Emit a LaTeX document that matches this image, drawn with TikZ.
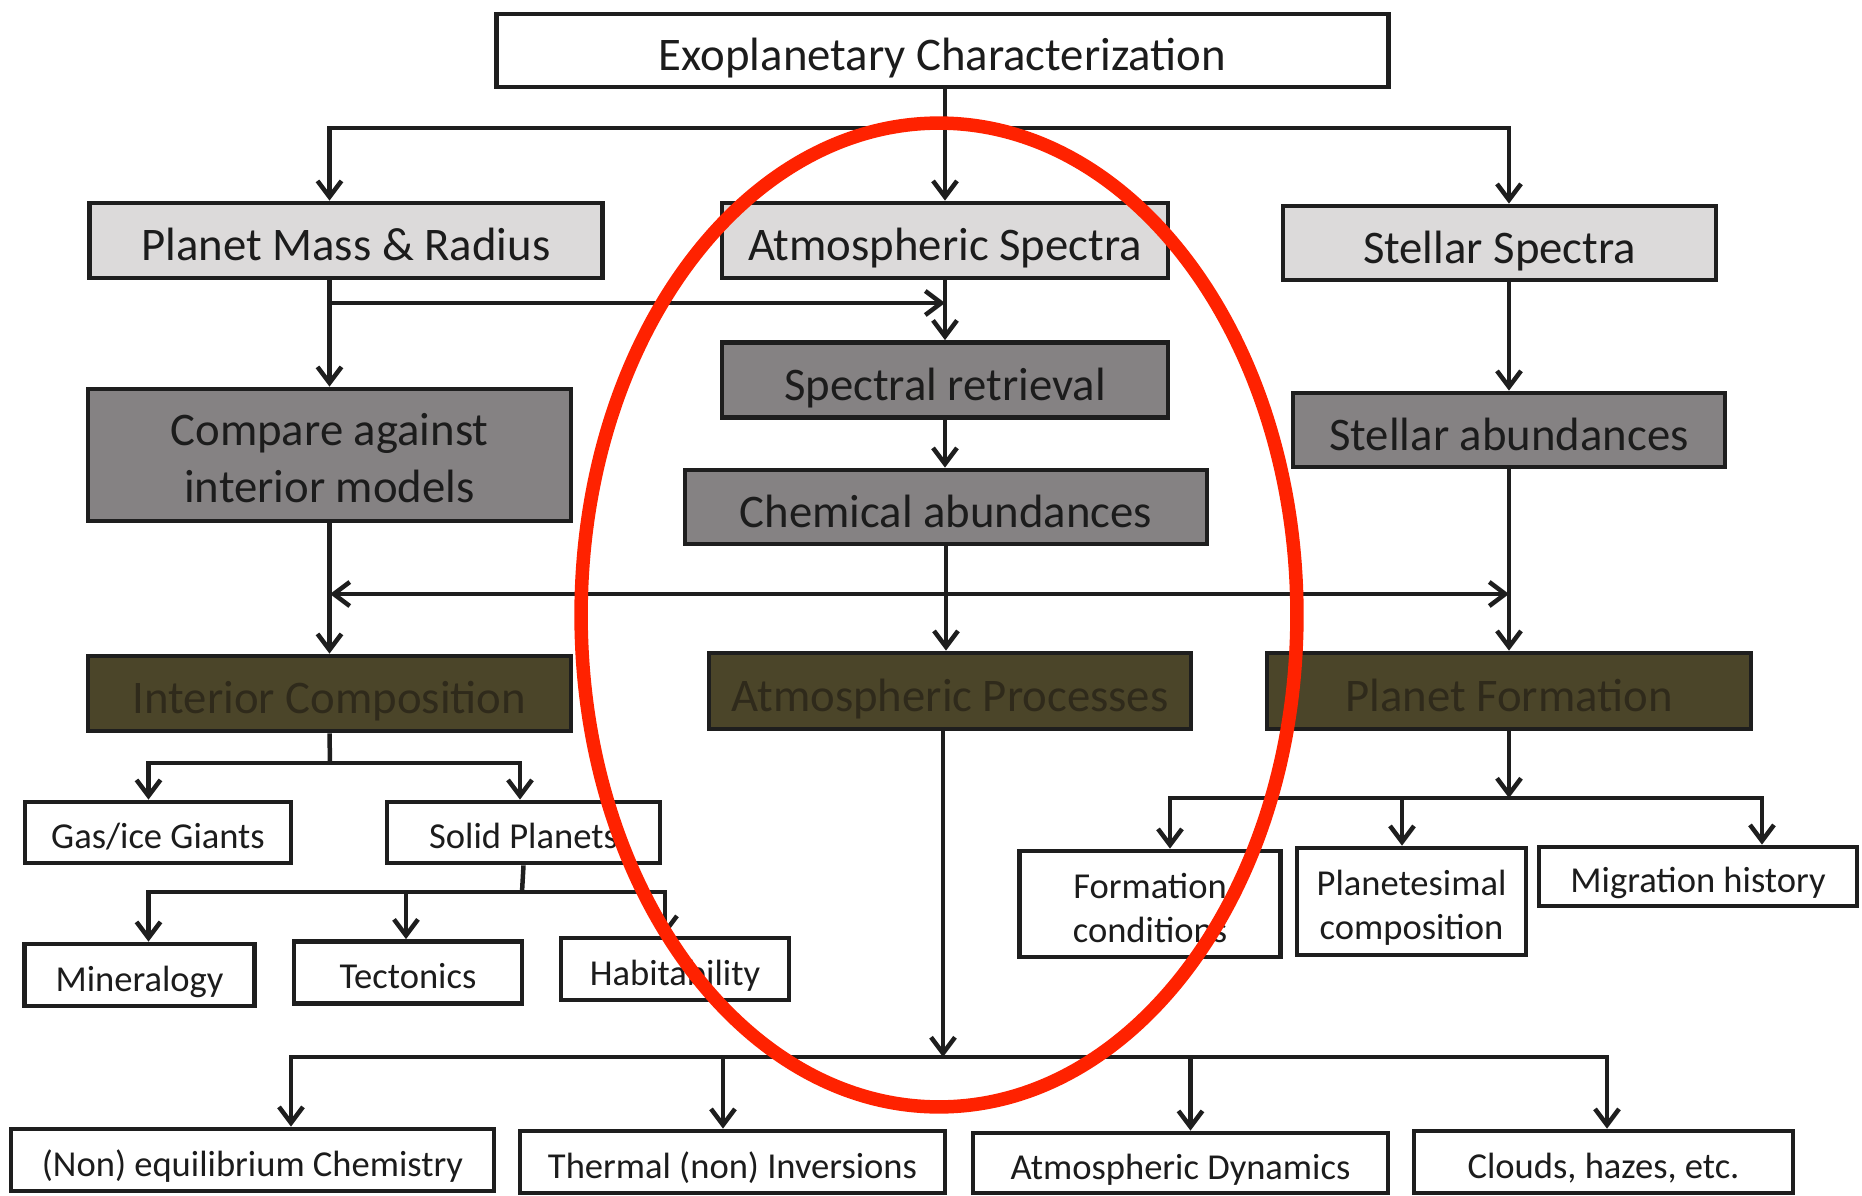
\documentclass[tikz,border=0pt]{standalone}
\usepackage{fontspec}
\setmainfont{Carlito}
\usepackage{tikz}
\usetikzlibrary{arrows.meta,calc}
\definecolor{boxlight}{HTML}{DCDADA}
\definecolor{boxdark}{HTML}{858283}
\definecolor{boxolive}{HTML}{4B4529}
\definecolor{textolive}{HTML}{2F2A1B}
\definecolor{textdark}{HTML}{1C1C1C}
\definecolor{linegray}{HTML}{1E1E1E}
\definecolor{ringred}{HTML}{FF2200}

\begin{document}
\begin{tikzpicture}[x=0.02cm,y=-0.02cm,>={Straight Barb[length=0.32cm,width=0.48cm]},
  box/.style={draw=linegray,line width=0.095cm,inner sep=0pt,text depth=0pt,align=center,text=textdark},
  mainbox/.style={box,text height=23pt,font=\fontsize{26.6}{32.4}\selectfont},
  leafbox/.style={box,text height=18.5pt,fill=white,font=\fontsize{20.8}{25}\selectfont},
  twomain/.style={text height=53.5pt},
  twoleaf/.style={text height=43.5pt},
  topbox/.style={mainbox,fill=white},
  inbox/.style={mainbox,fill=boxlight},
  stepbox/.style={mainbox,fill=boxdark},
  resbox/.style={mainbox,fill=boxolive,text=textolive},
  link/.style={draw=linegray,line width=0.09cm}]
  \useasboundingbox (0,0) rectangle (1862,1196);
  \fill[white] (0,0) rectangle (1862,1196);

  \node[topbox,minimum width=17.84cm,minimum height=1.46cm] (exo) at (942.5,50.5) {Exoplanetary Characterization};

  \node[inbox,minimum width=10.26cm,minimum height=1.5cm] (pmr) at (346,240.5) {Planet Mass \& Radius};
  \node[inbox,minimum width=8.92cm,minimum height=1.5cm] (atmspec) at (945,240.5) {Atmospheric Spectra};
  \node[inbox,minimum width=8.66cm,minimum height=1.48cm] (stelspec) at (1499.5,243) {Stellar Spectra};

  \node[stepbox,twomain,minimum width=9.66cm,minimum height=2.64cm] (compare) at (329.5,455) {Compare against\\interior models};
  \node[stepbox,minimum width=8.92cm,minimum height=1.5cm] (retr) at (945,380) {Spectral retrieval};
  \node[stepbox,minimum width=10.44cm,minimum height=1.48cm] (chemab) at (946,507) {Chemical abundances};
  \node[stepbox,minimum width=8.64cm,minimum height=1.48cm] (stelab) at (1509,430) {Stellar abundances};

  \node[resbox,minimum width=9.66cm,minimum height=1.5cm] (intcomp) at (329.5,693.5) {Interior Composition};
  \node[resbox,minimum width=9.64cm,minimum height=1.52cm] (atmproc) at (950,691) {Atmospheric Processes};
  \node[resbox,minimum width=9.68cm,minimum height=1.52cm] (planform) at (1509,691) {Planet Formation};

  \node[leafbox,minimum width=5.32cm,minimum height=1.22cm] (gasice) at (158,832.5) {Gas/ice Giants};
  \node[leafbox,minimum width=5.46cm,minimum height=1.22cm] (solid) at (523.5,832.5) {Solid Planets};
  \node[leafbox,minimum width=4.6cm,minimum height=1.24cm] (miner) at (139.5,975) {Mineralogy};
  \node[leafbox,minimum width=4.56cm,minimum height=1.24cm] (tecton) at (408,972.5) {Tectonics};
  \node[leafbox,minimum width=4.56cm,minimum height=1.24cm] (habit) at (675,969) {Habitability};

  \node[leafbox,twoleaf,minimum width=5.22cm,minimum height=2.12cm] (formcond) at (1150,904) {Formation\\conditions};
  \node[leafbox,twoleaf,minimum width=4.58cm,minimum height=2.14cm] (planetes) at (1411.5,901.5) {Planetesimal\\composition};
  \node[leafbox,minimum width=6.36cm,minimum height=1.18cm] (migr) at (1698,876.5) {Migration history};

  \node[leafbox,minimum width=9.66cm,minimum height=1.24cm] (noneq) at (252.5,1160) {(Non) equilibrium Chemistry};
  \node[leafbox,minimum width=8.5cm,minimum height=1.24cm] (thermal) at (732.5,1162) {Thermal (non) Inversions};
  \node[leafbox,minimum width=8.3cm,minimum height=1.2cm] (atmdyn) at (1180.5,1163) {Atmospheric Dynamics};
  \node[leafbox,minimum width=7.58cm,minimum height=1.24cm] (clouds) at (1603.5,1162) {Clouds, hazes, etc.};

  \coordinate (topbus) at (945,128);
  \draw[link,->] (atmspec.north |- exo.south) -- (atmspec.north);
  \draw[link,->] (topbus) -| (intcomp.north |- pmr.north);
  \draw[link,->] (topbus) -| (stelab.north |- stelspec.north);

  \coordinate (massfork) at (330,303);
  \coordinate (specjoin) at (945,303);
  \draw[link,->] (intcomp.north |- pmr.south) -- (compare.north);
  \draw[link,->] (massfork) -- (specjoin);
  \draw[link,->] (atmspec.south) -- (retr.north);
  \draw[link,->] (retr.south) -- (retr.south |- chemab.north);
  \draw[link,->] (stelab.north |- stelspec.south) -- (stelab.north);

  \coordinate (crossL) at (330,594);
  \coordinate (crossR) at (1509,594);
  \draw[link,<->] (crossL) -- (crossR);
  \draw[link,->] (compare.south) -- (intcomp.north);
  \draw[link,->] (chemab.south) -- (chemab.south |- atmproc.north);
  \draw[link,->] (stelab.south) -- (planform.north);

  \coordinate (intbus) at (330,763);
  \draw[link] (intcomp.south) -- (intbus);
  \foreach \n/\dx in {gasice/-0.19cm,solid/-0.07cm}
    \draw[link,->] (intbus) -| ([xshift=\dx]\n.north);

  \coordinate (solbus) at (522,892);
  \draw[link] (solid.south) -- (solbus);
  \foreach \n/\dx in {miner/0.18cm,tecton/-0.04cm,habit/-0.2cm}
    \draw[link,->] (solbus) -| ([xshift=\dx]\n.north);

  \coordinate (formbus) at (1509,798);
  \draw[link,->] (planform.south) -- (formbus);
  \foreach \n/\dx in {formcond/0.4cm,planetes/-0.19cm,migr/1.28cm}
    \draw[link,->] (formbus) -| ([xshift=\dx]\n.north);

  \coordinate (procbus) at (943,1057);
  \draw[link,->] (procbus |- atmproc.south) -- (procbus);
  \foreach \n/\dx in {noneq/0.77cm,thermal/-0.19cm,atmdyn/0.2cm,clouds/0.07cm}
    \draw[link,->] (procbus) -| ([xshift=\dx]\n.north);

  \draw[ringred,line width=0.27cm] (939,615) ellipse [x radius=7.16cm,y radius=9.84cm];
\end{tikzpicture}
\end{document}
